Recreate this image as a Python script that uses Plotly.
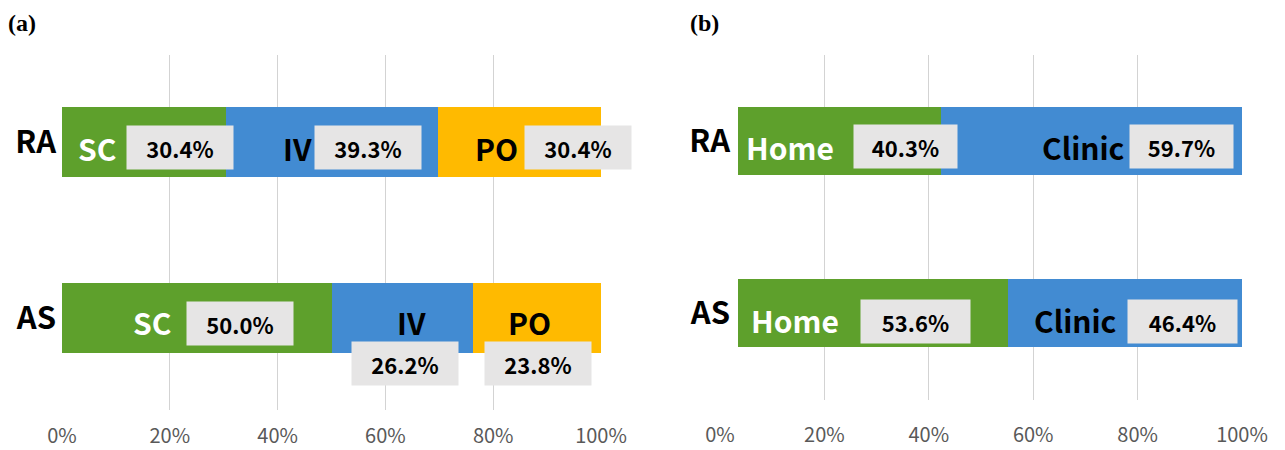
import plotly.graph_objects as go

# ---------------- data ----------------
groups = ["AS", "RA"]  # bottom to top
route_names = ["SC", "IV", "PO"]
route_RA = [30.4, 39.3, 30.4]
route_AS = [50.0, 26.2, 23.8]
place_names = ["Home", "Clinic"]
place_RA = [40.3, 59.7]
place_AS = [53.6, 46.4]
tick_vals = [0, 20, 40, 60, 80, 100]
tick_text = ["0%", "20%", "40%", "60%", "80%", "100%"]

route_colors = ["#5EA02C", "#428BD2", "#FFBA00"]
place_colors = ["#5EA02C", "#428BD2"]
name_colors_a = ["white", "black", "black"]
name_colors_b = ["white", "black"]

W, H = 1285, 450
FONT = "Noto Sans CJK KR"
GRID = "#d3d3d3"
BOX = "#E6E5E5"

fig = go.Figure()

# panel (a) bars
for i, nm in enumerate(route_names):
    fig.add_trace(go.Bar(
        y=groups, x=[route_AS[i], route_RA[i]], name=nm, orientation="h",
        marker=dict(color=route_colors[i], line=dict(width=0)),
        width=0.40, xaxis="x", yaxis="y", showlegend=False, hoverinfo="skip"))

# panel (b) grid subplot (invisible trace)
fig.add_trace(go.Scatter(x=[0], y=[0], mode="markers", marker=dict(opacity=0),
                         xaxis="x2", yaxis="y2", showlegend=False, hoverinfo="skip"))

# panel (b) bars
for i, nm in enumerate(place_names):
    fig.add_trace(go.Bar(
        y=groups, x=[place_AS[i], place_RA[i]], name=nm, orientation="h",
        marker=dict(color=place_colors[i], line=dict(width=0)),
        width=0.395, xaxis="x3", yaxis="y3", showlegend=False, hoverinfo="skip"))

ydom_a = [1 - 410 / H, 1 - 55 / H]
ydom_b = [1 - 400 / H, 1 - 55 / H]

tickf = dict(size=20, color="#595959", family=FONT)
catf = dict(size=31, color="black", family=FONT, weight="bold")

fig.update_layout(
    width=W, height=H, margin=dict(l=0, r=0, t=0, b=0, autoexpand=False),
    paper_bgcolor="white", plot_bgcolor="rgba(0,0,0,0)",
    barmode="stack", font=dict(family=FONT),
    xaxis=dict(domain=[62 / W, 601 / W], range=[0, 100], tickvals=tick_vals,
               ticktext=tick_text, showgrid=True, gridcolor=GRID, gridwidth=1.3,
               zeroline=False, showline=False, ticks="", anchor="y",
               tickfont=tickf, ticklabelstandoff=12, automargin=False),
    yaxis=dict(domain=ydom_a, range=[-0.523, 1.494], type="category",
               categoryorder="array", categoryarray=groups, showgrid=False,
               zeroline=False, ticks="", anchor="x", ticklabelstandoff=5,
               tickfont=catf, automargin=False),
    xaxis2=dict(domain=[720 / W, 1242 / W], range=[0, 100], tickvals=tick_vals,
                ticktext=tick_text, showgrid=True, gridcolor=GRID, gridwidth=1.3,
                zeroline=False, showline=False, ticks="", anchor="y2",
                tickfont=tickf, ticklabelstandoff=21, automargin=False),
    yaxis2=dict(domain=ydom_b, range=[0, 1], visible=False, anchor="x2",
                automargin=False),
    xaxis3=dict(domain=[738 / W, 1242 / W], range=[0, 100], visible=False,
                anchor="y3", automargin=False),
    yaxis3=dict(domain=ydom_b, range=[-0.506, 1.5], type="category",
                categoryorder="array", categoryarray=groups, showgrid=False,
                zeroline=False, ticks="", anchor="x3", ticklabelstandoff=7,
                tickfont=catf, automargin=False),
)

# hide most of the 0% gridline of panel (b), as in the reference
fig.add_shape(type="rect", xref="x2", yref="paper", x0=-1.2, x1=1.2,
              y0=1 - 401 / H, y1=1 - 80 / H, fillcolor="white",
              line=dict(width=0), layer="between")

# titles
fig.add_annotation(text="<b>(a)</b>", xref="paper", yref="paper", x=6 / W, y=1 - 23 / H,
                   xanchor="left", yanchor="middle", showarrow=False,
                   font=dict(family="Liberation Serif", size=24, color="black"))
fig.add_annotation(text="<b>(b)</b>", xref="paper", yref="paper", x=688 / W, y=1 - 23 / H,
                   xanchor="left", yanchor="middle", showarrow=False,
                   font=dict(family="Liberation Serif", size=24, color="black"))


def name_label(txt, x, y, color, xr, yr, size=30):
    fig.add_annotation(text=f"<b>{txt}</b>", x=x, y=y, xref=xr, yref=yr,
                       showarrow=False, xanchor="center", yanchor="middle",
                       font=dict(family=FONT, size=size, color=color))


def pct_box(val, x, y, xr, yr, w=104, h=41):
    fig.add_annotation(text=f"<b>{val:.1f}%</b>", x=x, y=y, xref=xr, yref=yr,
                       showarrow=False, xanchor="center", yanchor="middle",
                       width=w, height=h, bgcolor=BOX, borderpad=1,
                       font=dict(family=FONT, size=22, color="black"))


RA, AS = 1, 0
# panel (a) label positions (x in %, y in category units)
a_name_RA = [(6.5, -0.034), (43.6, -0.034), (80.7, -0.034)]
a_box_RA = [(21.9, -0.034), (56.8, -0.034), (95.7, -0.034)]
a_name_AS = [(16.7, -0.023), (64.9, -0.023), (86.8, -0.023)]
a_box_AS = [(33.0, -0.034), (63.6, -0.26), (88.3, -0.26)]
for i, nm in enumerate(route_names):
    name_label(nm, a_name_RA[i][0], RA + a_name_RA[i][1], name_colors_a[i], "x", "y")
    pct_box(route_RA[i], a_box_RA[i][0], RA + a_box_RA[i][1], "x", "y")
    name_label(nm, a_name_AS[i][0], AS + a_name_AS[i][1], name_colors_a[i], "x", "y")
    pct_box(route_AS[i], a_box_AS[i][0], AS + a_box_AS[i][1], "x", "y")

# panel (b)
b_name_RA = [(10.3, -0.035), (68.5, -0.035)]
b_box_RA = [(33.3, -0.03), (87.9, -0.03)]
b_name_AS = [(11.3, -0.04), (66.9, -0.04)]
b_box_AS = [(35.3, -0.047), (88.1, -0.047)]
for i, nm in enumerate(place_names):
    name_label(nm, b_name_RA[i][0], RA + b_name_RA[i][1], name_colors_b[i], "x3", "y3")
    pct_box(place_RA[i], b_box_RA[i][0], RA + b_box_RA[i][1], "x3", "y3", w=101)
    name_label(nm, b_name_AS[i][0], AS + b_name_AS[i][1], name_colors_b[i], "x3", "y3")
    pct_box(place_AS[i], b_box_AS[i][0], AS + b_box_AS[i][1], "x3", "y3", w=107)

fig.write_html("out.html", config={"displayModeBar": False},
               post_script="document.body.style.margin='0';")
